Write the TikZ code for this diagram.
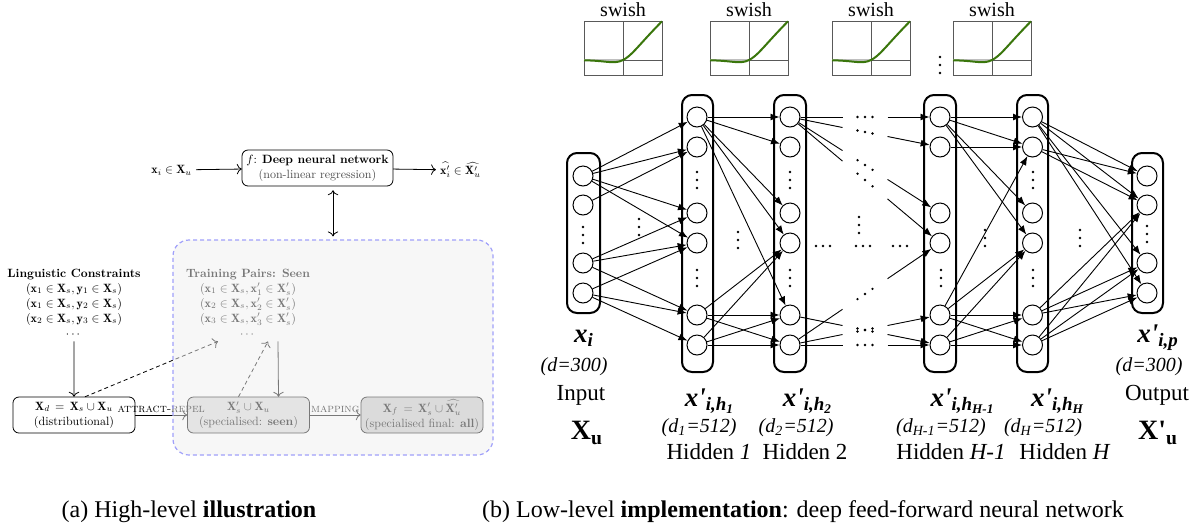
\documentclass[tikz,border=0pt]{standalone}
\usepackage{amsmath}
\usepackage{amssymb}
\usepackage{fontspec}
\newfontfamily\tnr{Liberation Serif}
\usetikzlibrary{arrows.meta,calc}
\definecolor{swishgreen}{RGB}{58,118,12}
\definecolor{seenblue}{RGB}{160,160,250}

\tikzset{
  neuron/.style={circle,draw,line width=0.5pt,minimum size=10pt,inner sep=0pt},
  conn/.style={-{Latex[length=4.5pt,width=3.5pt]},line width=0.45pt},
  layerbox/.style={line width=1pt,rounded corners=5pt},
  leftfont/.style={font=\fontsize{10}{12.5}\selectfont,scale=0.6},
  cbox/.style={draw,rounded corners=3pt,align=center,minimum width=101.7pt,
    minimum height=30pt,inner sep=1.5pt,font=\fontsize{10}{12.5}\selectfont,scale=0.6},
  seenbox/.style={draw=seenblue,dash pattern=on 2pt off 1.5pt,semithick,
    rounded corners=8pt,fill=black!6,fill opacity=0.5,
    minimum width=160pt,minimum height=107.5pt},
  varlab/.style={font={\tnr\fontsize{13.5}{15}\selectfont\bfseries\itshape}},
  dlab/.style={font={\tnr\fontsize{10}{12}\selectfont\itshape}},
  rlab/.style={font={\tnr\fontsize{11.5}{13}\selectfont}},
  biglab/.style={font={\tnr\fontsize{14}{16}\selectfont\bfseries}},
  vdts/.pic={\foreach \d in {-8,0,8} \fill (0,\d) circle (1.3);},
  hdts/.pic={\foreach \d in {-7,0,7} \fill (\d,0) circle (1.3);},
  swishplot/.pic={
    \draw[black!65,line width=0.4pt] (-39,-39) rectangle (39,15);
    \draw[black!65,line width=0.4pt] (0,-39) -- (0,15) (-39,0) -- (39,0);
    \draw[black!25,line width=1.2pt] (-39,0) -- (0,0);
    \draw[swishgreen,line width=1pt,domain=-5:5,samples=50]
      plot ({7.8*\x},{-7.8*\x/(1+exp(-\x))});
  }
}

\begin{document}
\begin{tikzpicture}[x=0.5pt,y=-0.5pt]
  \useasboundingbox (0,0) rectangle (1199,526);

  % (a) high-level picture
  \node[leftfont,anchor=east] (xin) at (196,170) {$\mathbf{x}_i \in \mathbf{X}_u$};
  \node[cbox,minimum width=125.8pt] (dnn) at (317.5,168)
    {$f$: \textbf{Deep neural network}\\ \textcolor{black!70}{(non-linear regression)}};
  \node[leftfont,anchor=west] (xout) at (436,170) {$\widehat{\mathbf{x}'_i} \in \widehat{\mathbf{X}'_u}$};
  \draw[->] (xin) -- (dnn);
  \draw[->] (dnn) -- (xout);

  \node[leftfont,align=center] (lc) at (74,303) {\textbf{Linguistic Constraints}\\
    $(\mathbf{x}_1 \in \mathbf{X}_s, \mathbf{y}_1 \in \mathbf{X}_s)$\\
    $(\mathbf{x}_1 \in \mathbf{X}_s, \mathbf{y}_2 \in \mathbf{X}_s)$\\
    $(\mathbf{x}_2 \in \mathbf{X}_s, \mathbf{y}_3 \in \mathbf{X}_s)$\\ $\cdots$};
  \node[leftfont,align=center] (tp) at (248,303) {\textbf{Training Pairs: Seen}\\
    $(\mathbf{x}_1 \in \mathbf{X}_s, \mathbf{x}'_1 \in \mathbf{X}'_s)$\\
    $(\mathbf{x}_2 \in \mathbf{X}_s, \mathbf{x}'_2 \in \mathbf{X}'_s)$\\
    $(\mathbf{x}_3 \in \mathbf{X}_s, \mathbf{x}'_3 \in \mathbf{X}'_s)$\\ $\cdots$};

  \node[cbox] (xd) at (74,415)
    {$\mathbf{X}_d \,=\, \mathbf{X}_s \cup \mathbf{X}_u$\\ (distributional)};
  \node[cbox,fill=black!15] (xs) at (248.5,415)
    {$\mathbf{X}'_s \cup \mathbf{X}_u$\\ (specialised: \textbf{seen})};
  \node[cbox,fill=black!22] (xf) at (422,415)
    {$\mathbf{X}_f \,=\, \mathbf{X}'_s \cup \widehat{\mathbf{X}'_u}$\\ (specialised final: \textbf{all})};

  \draw[->] (lc) -- (xd);
  \draw[->] ([xshift=15pt]tp.south) -- ([xshift=15pt]xs.north);
  \draw[->,dash pattern=on 2pt off 1.5pt] ([xshift=5.5pt]xd.north) -- ([xshift=-15pt]tp.south);
  \draw[->,dash pattern=on 2pt off 1.5pt] ([xshift=-5pt]xs.north) -- ([xshift=10pt]tp.south);
  \draw[->] (xd) -- node[leftfont,above,inner sep=1.5pt] (ar) {\textsc{attract-repel}} (xs);
  \draw[->] (xs) -- node[leftfont,above,inner sep=1.5pt] (mp) {\textsc{mapping}} (xf);

  \node[seenbox] (seen) at (333,347.5) {};
  \draw[<->,shorten <=2pt,shorten >=1.5pt] (dnn.south -| seen.north) -- (seen.north);

  % (b) swish activations
  \foreach \x [count=\i] in {623,749,871,992} {
    \pic at (\x,60) {swishplot};
    \node[font={\tnr\fontsize{10}{12}\selectfont}] (sw\i) at (\x,10) {swish};
  }
  \pic at (940,65) {vdts};

  % layers
  \draw[layerbox] (567,153) rectangle (600,313);
  \draw[layerbox] (682,95) rectangle (713,372);
  \draw[layerbox] (774,95) rectangle (806,372);
  \draw[layerbox] (924,95) rectangle (956,372);
  \draw[layerbox] (1017,95) rectangle (1048,372);
  \draw[layerbox] (1132,153) rectangle (1163,313);

  \foreach \y [count=\i] in {176,205,263,293} {
    \node[neuron] (in\i) at (583,\y) {};
    \node[neuron] (out\i) at (1147,\y) {};
  }
  \foreach \col/\x in {ha/697,hb/790,hc/940,hd/1032.5}
    \foreach \y [count=\i] in {117,147,213,243,315,345}
      \node[neuron] (\col\i) at (\x,\y) {};

  % dots
  \foreach \p in {(583,235),(639,227),(697,180),(697,278),(738,240),(790,180),(790,278),
    (859,225),(941,278),(985,238),(1033,180),(1033,278),(1080,238),(1147,234)}
    \pic at \p {vdts};
  \foreach \p in {(823,246),(863,246),(900,246)}
    \pic at \p {hdts};

  % connections
  \foreach \s/\t in {in1/ha1,in1/ha2,in1/ha3,in1/ha4,in2/ha2,in3/ha3,in3/ha4,in3/ha5,
    in4/ha4,in4/ha5,in4/ha6,
    ha1/hb1,ha1/hb2,ha1/hb3,ha1/hb4,ha1/hb5,ha5/hb4,ha5/hb5,ha5/hb6,ha6/hb4,ha6/hb5,ha6/hb6,
    hc1/hd1,hc1/hd2,hc1/hd3,hc1/hd4,hc2/hd2,hc5/hd2,hc5/hd4,hc5/hd5,hc5/hd6,
    hc6/hd4,hc6/hd5,hc6/hd6,
    hd1/out1,hd1/out2,hd1/out3,hd1/out4,hd2/out1,hd2/out2,hd5/out2,hd5/out3,hd5/out4,
    hd6/out2,hd6/out3,hd6/out4}
    \draw[conn] (\s) -- (\t);

  % connections through the skipped layers
  \foreach \s/\t in {hb1/hc1,hb1/hc2,hb1/hc3,hb1/hc4,hb5/hc6,hb6/hc4,hb6/hc5,hb6/hc6} {
    \draw[line width=0.45pt] (\s) -- ($(\s)!0.35!(\t)$);
    \foreach \f in {0.45,0.5,0.55} \fill ($(\s)!\f!(\t)$) circle (1.3);
    \draw[conn] ($(\s)!0.65!(\t)$) -- (\t);
  }

  % labels
  \node[varlab] (lxi) at (584,338) {x\textsubscript{i}};
  \node[dlab] (ldi) at (574,367) {(d=300)};
  \node[rlab] (lin) at (581,395) {Input};
  \node[biglab] (lxu) at (587,433) {X\textsubscript{u}};

  \node[varlab] (lh1) at (710,401) {x\textquotesingle\textsubscript{i,h\textsubscript{1}}};
  \node[dlab] (ld1) at (699,428) {(d\textsubscript{1}=512)};
  \node[rlab] (lhid1) at (709,452) {Hidden \textit{1}};

  \node[varlab] (lh2) at (808,401) {x\textquotesingle\textsubscript{i,h\textsubscript{2}}};
  \node[dlab] (ld2) at (796,428) {(d\textsubscript{2}=512)};
  \node[rlab] (lhid2) at (805,452) {Hidden 2};

  \node[varlab] (lh3) at (963,401) {x\textquotesingle\textsubscript{i,h\textsubscript{H-1}}};
  \node[dlab] (ld3) at (941,428) {(d\textsubscript{H-1}=512)};
  \node[rlab] (lhid3) at (951,452) {Hidden \textit{H-1}};

  \node[varlab] (lh4) at (1058,401) {x\textquotesingle\textsubscript{i,h\textsubscript{H}}};
  \node[dlab] (ld4) at (1043,428) {(d\textsubscript{H}=512)};
  \node[rlab] (lhid4) at (1065,452) {Hidden \textit{H}};

  \node[varlab] (lxp) at (1158,338) {x\textquotesingle\textsubscript{i,p}};
  \node[dlab] (ldo) at (1149,367) {(d=300)};
  \node[rlab] (lout) at (1157,395) {Output};
  \node[biglab] (lxo) at (1158,433) {X\textquotesingle\textsubscript{u}};

  % captions
  \node[font={\tnr\fontsize{12}{14}\selectfont}] (capa) at (189,512) {(a) High-level \textbf{illustration}};
  \node[font={\tnr\fontsize{12}{14}\selectfont}] (capb) at (803,512)
    {(b) Low-level \textbf{implementation}: deep feed-forward neural network};
\end{tikzpicture}
\end{document}
